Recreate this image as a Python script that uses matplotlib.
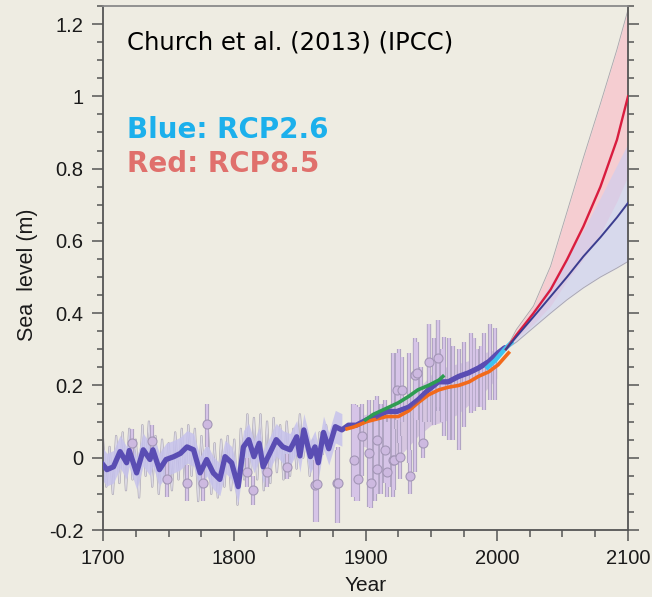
import numpy as np
import matplotlib
matplotlib.use('Agg')
import matplotlib.pyplot as plt
from matplotlib.ticker import MultipleLocator, FuncFormatter

plt.rcParams['axes.unicode_minus'] = False

# ---------------- data ----------------
# reconstruction + tide-gauge central estimate (purple)
recon_years = [1698, 1703, 1708, 1713, 1718, 1720, 1725.6, 1730.7, 1735.8, 1738, 1743, 1748,
               1754, 1759, 1764, 1769, 1774, 1779, 1784, 1789, 1793, 1798, 1803, 1807, 1811,
               1815, 1819, 1822, 1827, 1832, 1837, 1842.5, 1847.6, 1850, 1853, 1858, 1861.5,
               1864, 1868, 1872, 1877, 1882, 1887, 1893, 1901, 1909, 1916, 1924, 1933, 1940,
               1948, 1955.6, 1963, 1971, 1978.6, 1986, 1994, 2001, 2006]
recon_vals = [-0.01, -0.033, -0.025, 0.017, -0.014, 0.02, -0.042, 0.022, -0.005, 0.022, -0.033,
              -0.005, 0.003, 0.012, 0.03, 0.022, -0.042, -0.005, -0.042, -0.06, 0.003, -0.014,
              -0.08, 0.03, 0.05, 0.003, 0.04, -0.025, 0.012, 0.05, 0.03, 0.022, 0.058, 0.005,
              0.077, 0.003, 0.03, -0.014, 0.07, 0.025, 0.086, 0.077, 0.09, 0.09, 0.105, 0.114,
              0.128, 0.128, 0.14, 0.16, 0.188, 0.21, 0.21, 0.225, 0.235, 0.248, 0.266, 0.29, 0.304]
recon_band_end = 1882
recon_err = 0.045

# gray spiky annual series (alternating peaks / troughs every 2.5 years from 1700)
spike_start, spike_step = 1700, 2.5
spike_vals = [0.05, -0.08, 0.03, -0.10, 0.06, -0.07, 0.07, -0.09, 0.08, -0.06, 0.05, -0.11,
              0.09, -0.05, 0.10, -0.08, 0.06, -0.10, 0.05, -0.07, 0.04, -0.09, 0.07, -0.06,
              0.08, -0.08, 0.09, -0.05, 0.08, -0.12, 0.06, -0.07, 0.07, -0.10, 0.04, -0.11,
              0.05, -0.08, 0.06, -0.09, 0.05, -0.13, 0.08, -0.06, 0.12, -0.05, 0.11, -0.06,
              0.12, -0.09, 0.10, -0.07, 0.11, -0.04, 0.09, -0.06, 0.10, -0.05, 0.08, -0.03,
              0.12, 0.00, 0.06, -0.05, 0.05, -0.04, 0.07, 0.01, 0.09, 0.02, 0.08]

# proxy / salt-marsh points with error bars
pt_years = [1722, 1737, 1749, 1764, 1776, 1779, 1810, 1814, 1825, 1840, 1861.5, 1863, 1878, 1879,
            1891, 1894, 1897, 1903, 1904, 1909, 1909, 1915, 1916, 1921, 1922, 1924, 1926, 1928,
            1934, 1938, 1939, 1944, 1948, 1955]
pt_vals = [0.04, 0.045, -0.06, -0.07, -0.07, 0.092, -0.04, -0.09, -0.04, -0.025, -0.075, -0.072,
           -0.07, -0.07, -0.005, -0.06, 0.06, 0.013, -0.07, 0.05, -0.03, 0.022, -0.04, -0.005,
           -0.005, 0.188, 0.003, 0.188, -0.05, 0.23, 0.235, 0.04, 0.265, 0.277]
pt_lo = [0.00, 0.00, -0.11, -0.12, -0.12, 0.03, -0.08, -0.13, -0.08, -0.06, -0.177, -0.177,
         -0.18, -0.18, -0.11, -0.12, -0.05, -0.135, -0.14, -0.10, -0.10, -0.07, -0.11, -0.11,
         -0.09, 0.105, -0.06, 0.10, -0.10, 0.11, 0.105, 0.00, 0.10, 0.14]
pt_hi = [0.08, 0.09, -0.01, -0.02, -0.02, 0.15, 0.00, -0.05, 0.00, 0.01, -0.005, 0.022,
         0.02, 0.03, 0.15, 0.14, 0.15, 0.16, 0.10, 0.17, 0.10, 0.16, 0.10, 0.29, 0.08, 0.29,
         0.06, 0.28, 0.02, 0.33, 0.32, 0.10, 0.37, 0.38]

# additional error bars without markers
bar_years = [1925.5, 1933, 1938, 1948, 1955, 1960, 1963.6, 1967, 1971, 1975, 1980, 1985, 1990,
             1995, 1999, 1890.5, 1893, 1907, 1912, 1918, 1942, 1952, 1958, 1983, 1988]
bar_lo = [0.04, -0.015, -0.04, 0.105, 0.13, 0.06, 0.05, 0.05, 0.02, 0.086, 0.124, 0.14, 0.133,
          0.16, 0.16, -0.11, -0.12, -0.12, -0.10, -0.08, 0.03, 0.09, 0.10, 0.13, 0.14]
bar_hi = [0.30, 0.29, 0.32, 0.37, 0.38, 0.335, 0.33, 0.31, 0.30, 0.32, 0.345, 0.30, 0.345,
          0.37, 0.36, 0.15, 0.146, 0.16, 0.15, 0.14, 0.25, 0.33, 0.30, 0.33, 0.31]

# dense lavender cloud of proxy data
cloud_years = [1890, 1900, 1910, 1920, 1930, 1940, 1950, 1960, 1970, 1980, 1990, 2000]
cloud_hi = [0.11, 0.12, 0.13, 0.15, 0.17, 0.19, 0.23, 0.25, 0.26, 0.27, 0.29, 0.30]
cloud_lo = [0.04, 0.03, 0.00, -0.02, 0.02, 0.06, 0.09, 0.10, 0.12, 0.15, 0.18, 0.22]

# tide gauge reconstructions
green_years = [1900, 1906, 1915, 1925, 1933, 1940, 1948, 1956, 1959]
green_vals = [0.105, 0.12, 0.135, 0.152, 0.17, 0.188, 0.20, 0.215, 0.225]
orange_years = [1886, 1891, 1901, 1916, 1925, 1933, 1940, 1948, 1956, 1963, 1971, 1979, 1986,
                1994, 2001, 2009]
orange_vals = [0.08, 0.085, 0.10, 0.114, 0.114, 0.13, 0.152, 0.174, 0.188, 0.195, 0.20, 0.21,
               0.225, 0.238, 0.257, 0.29]
cyan_years = [1993, 1999, 2006, 2011]
cyan_vals = [0.25, 0.27, 0.30, 0.318]

# projections
proj_years = [2007, 2015, 2028, 2041, 2053.5, 2066, 2079, 2091.6, 2100]
red_mid = [0.30, 0.34, 0.40, 0.465, 0.548, 0.64, 0.75, 0.88, 1.00]
red_hi = [0.30, 0.355, 0.42, 0.53, 0.68, 0.83, 0.98, 1.13, 1.24]
red_lo = [0.30, 0.33, 0.37, 0.42, 0.49, 0.55, 0.62, 0.71, 0.78]
blue_mid = [0.30, 0.335, 0.39, 0.446, 0.50, 0.557, 0.61, 0.665, 0.705]
blue_hi = [0.30, 0.345, 0.41, 0.48, 0.55, 0.63, 0.72, 0.81, 0.87]
blue_lo = [0.30, 0.32, 0.36, 0.40, 0.437, 0.47, 0.50, 0.525, 0.543]

# ---------------- figure ----------------
BG = '#eeece2'
fig = plt.figure(figsize=(6.52, 5.97), dpi=100, facecolor=BG)
ax = fig.add_axes([103/652, 67/597, 525/652, 524/597])
ax.set_facecolor(BG)
ax.set_xlim(1700, 2100)
ax.set_ylim(-0.2, 1.25)

# projection bands
ax.fill_between(proj_years, red_lo, red_hi, color='#f8c3cc', alpha=0.75, lw=0, zorder=1)
ax.fill_between(proj_years, blue_lo, blue_hi, color='#c9cdf3', alpha=0.6, lw=0, zorder=1.1)
for arr in (red_hi, blue_lo):
    ax.plot(proj_years, arr, color='#a8a4ac', lw=0.6, zorder=1.2)

# gray spikes
spike_years = spike_start + spike_step * np.arange(len(spike_vals))
ax.plot(spike_years, spike_vals, color='#a9a4b2', lw=1.6, zorder=2)
ax.plot(spike_years, spike_vals, color='#dcd9e4', lw=0.8, zorder=2.05)

# reconstruction band
ry = np.array(recon_years); rv = np.array(recon_vals)
m = ry <= recon_band_end
ax.fill_between(ry[m], rv[m] - recon_err, rv[m] + recon_err, color='#c6c2ec', alpha=0.85,
                lw=0, zorder=2.1)

# cloud
ax.fill_between(cloud_years, cloud_lo, cloud_hi, color='#cdb6e0', alpha=0.7, lw=0, zorder=2.2)

# error bars
ax.vlines(bar_years, bar_lo, bar_hi, color='#aa9fbc', lw=3.0, zorder=2.3)
ax.vlines(bar_years, bar_lo, bar_hi, color='#d6c4e7', lw=1.7, zorder=2.35)
ax.vlines(pt_years, pt_lo, pt_hi, color='#aa9fbc', lw=3.0, zorder=2.3)
ax.vlines(pt_years, pt_lo, pt_hi, color='#d6c4e7', lw=1.7, zorder=2.35)
ax.plot(pt_years, pt_vals, 'o', ms=6.5, mfc='#cdb9e0', mec='#a396b6', mew=0.8, zorder=2.4)

# lines
ax.plot(recon_years, recon_vals, color='#5a4db3', lw=3.8, zorder=3, solid_capstyle='round')
ax.plot(orange_years, orange_vals, color='#f26a1b', lw=2.6, zorder=3.2)
ax.plot(green_years, green_vals, color='#2e9c52', lw=2.6, zorder=3.3)
ax.plot(recon_years[-14:], recon_vals[-14:], color='#5a4db3', lw=3.0, zorder=3.25, alpha=0.8)
ax.plot(cyan_years, cyan_vals, color='#3ec3f0', lw=3.2, zorder=3.4)
ax.plot(proj_years, red_mid, color='#d91d3f', lw=1.7, zorder=3.5)
ax.plot(proj_years, blue_mid, color='#3b3d8f', lw=1.4, zorder=3.6)

# axes styling
for s in ('left', 'bottom', 'right'):
    ax.spines[s].set_color('#555555')
    ax.spines[s].set_linewidth(1.3)
ax.spines['top'].set_color('#8a8a8a')
ax.spines['top'].set_linewidth(1.3)

ax.xaxis.set_major_locator(MultipleLocator(100))
ax.xaxis.set_minor_locator(MultipleLocator(25))
ax.yaxis.set_major_locator(MultipleLocator(0.2))
ax.yaxis.set_minor_locator(MultipleLocator(0.05))
ax.yaxis.set_major_formatter(FuncFormatter(lambda v, p: '%g' % round(v, 2)))
ax.tick_params(axis='both', which='both', direction='out', color='#555555', width=1.1,
               labelsize=14.5, labelcolor='#1a1a1a', labelfontfamily='Liberation Sans')
ax.tick_params(axis='y', which='major', length=8, pad=6, right=True)
ax.tick_params(axis='y', which='minor', length=4, right=True)
ax.tick_params(axis='x', which='major', length=8, pad=6)
ax.tick_params(axis='x', which='minor', length=5)

ax.set_ylabel('Sea  level (m)', fontsize=15.5, family='Liberation Sans', color='#1a1a1a')
ax.yaxis.set_label_coords(-0.124, 0.487)
ax.set_xlabel('Year', fontsize=15, family='Liberation Sans', color='#1a1a1a')
ax.xaxis.set_label_coords(0.5, -0.088)

ax.text(0.046, 0.931, 'Church et al. (2013) (IPCC)', transform=ax.transAxes, fontsize=17.5,
        family='DejaVu Sans', color='black', va='center', ha='left')
ax.text(0.046, 0.763, 'Blue: RCP2.6', transform=ax.transAxes, fontsize=20, weight='bold',
        family='DejaVu Sans', color='#1cb0ec', va='center', ha='left')
ax.text(0.046, 0.699, 'Red: RCP8.5', transform=ax.transAxes, fontsize=20, weight='bold',
        family='DejaVu Sans', color='#e0706c', va='center', ha='left')

fig.savefig('out.png', dpi=100, facecolor=BG)
